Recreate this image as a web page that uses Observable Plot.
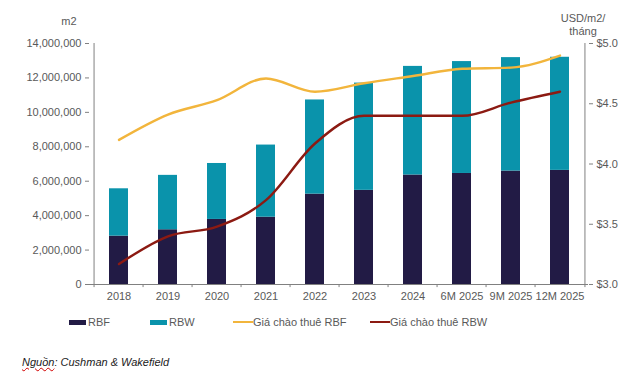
<!DOCTYPE html>
<html>
<head>
<meta charset="utf-8">
<script src="https://cdn.jsdelivr.net/npm/d3@7"></script>
<script src="https://cdn.jsdelivr.net/npm/@observablehq/plot@0.6"></script>
<style>
  body { margin: 0; background: #fff; font-family: "Liberation Sans", Arial, sans-serif; }
  #wrap { position: relative; width: 635px; height: 375px; }
  .lbl { position: absolute; color: #595959; font-size: 11px; line-height: 13px; text-align: center; }
  .leg { position: absolute; top: 315px; font-size: 11px; color: #595959; display: flex; align-items: center; height: 14px; white-space: nowrap; }
  .sw { display: inline-block; margin-right: 2px; }
  #src { position: absolute; left: 22px; top: 356px; font-size: 11px; font-style: italic; color: #1a1a1a; }
  #src u { text-decoration: underline wavy #d00000; text-decoration-thickness: 1px; }
</style>
</head>
<body>
<div id="wrap">
  <div id="chart"></div>
  <div class="lbl" style="left:55px; top:15px; width:28px;">m2</div>
  <div class="lbl" style="left:553px; top:12px; width:60px;">USD/m2/<br>tháng</div>
  <div id="legend"></div>
  <div id="src"><u>Nguồn</u>: Cushman &amp; Wakefield</div>
</div>
<script>
const categories = ["2018","2019","2020","2021","2022","2023","2024","6M 2025","9M 2025","12M 2025"];
const rbfArea    = [2810000,3180000,3780000,3910000,5250000,5470000,6360000,6450000,6590000,6630000];
const rbwArea    = [2750000,3160000,3250000,4190000,5470000,6230000,6310000,6500000,6590000,6570000];
const rbfPrice   = [4.20,4.41,4.53,4.71,4.60,4.67,4.73,4.79,4.80,4.90];
const rbwPrice   = [3.17,3.40,3.48,3.70,4.17,4.40,4.40,4.40,4.51,4.60];
const seriesNames = ["RBF","RBW","Giá chào thuê RBF","Giá chào thuê RBW"];
const colors = ["#221b45","#0a93ab","#f2b53c","#8c1a12"];
const leftTicks = [0,2000000,4000000,6000000,8000000,10000000,12000000,14000000];
const rightTicks = [3.0,3.5,4.0,4.5,5.0];

const yMax = 14000000, pMin = 3, pMax = 5;
const toY = p => (p - pMin) / (pMax - pMin) * yMax;

const bars = [];
categories.forEach((c,i) => {
  bars.push({cat:c, series:seriesNames[0], v:rbfArea[i]});
  bars.push({cat:c, series:seriesNames[1], v:rbwArea[i]});
});
const lineA = categories.map((c,i) => ({cat:c, p:rbfPrice[i]}));
const lineB = categories.map((c,i) => ({cat:c, p:rbwPrice[i]}));

const W = 635, H = 305, mL = 89, mR = 47, mT = 43, mB = 21;
const step = (W - mL - mR) / categories.length;
const axisColor = "#808080";
const textColor = "#595959";

const chart = Plot.plot({
  width: W, height: H,
  marginLeft: mL, marginRight: mR, marginTop: mT, marginBottom: mB,
  style: {fontFamily: "'Liberation Sans', Arial, sans-serif", fontSize: "11px", color: textColor, background: "#fff"},
  x: {domain: categories, paddingInner: 0.62, paddingOuter: 0.31, label: null},
  y: {domain: [0, yMax], label: null},
  color: {domain: seriesNames, range: colors},
  marks: [
    Plot.barY(bars, {x: "cat", y: "v", fill: "series", order: seriesNames}),
    Plot.lineY(lineA, {x: "cat", y: d => toY(d.p), stroke: colors[2], strokeWidth: 2.4, curve: "monotone-x"}),
    Plot.lineY(lineB, {x: "cat", y: d => toY(d.p), stroke: colors[3], strokeWidth: 2.4, curve: "monotone-x"}),
    Plot.axisY({anchor: "left", ticks: leftTicks, tickFormat: d => d3.format(",")(d), tickSize: 4, tickPadding: 4, stroke: axisColor, fill: textColor, label: null}),
    Plot.axisY({anchor: "right", ticks: rightTicks.map(toY), tickFormat: d => "$" + (pMin + d / yMax * (pMax - pMin)).toFixed(1), tickSize: 4, tickPadding: 4, stroke: axisColor, fill: textColor, label: null}),
    Plot.axisX({tickSize: 0, tickPadding: 8, fill: textColor, label: null}),
    Plot.ruleX(categories, {x: d => d, y1: 0, y2: -180000, dx: -step / 2, stroke: axisColor}),
    Plot.ruleX([categories[categories.length - 1]], {x: d => d, y1: 0, y2: -180000, dx: step / 2, stroke: axisColor}),
    Plot.ruleY([0], {stroke: axisColor}),
    Plot.ruleX([categories[0]], {x: d => d, dx: -step / 2, y1: 0, y2: yMax, stroke: axisColor}),
    Plot.ruleX([categories[categories.length - 1]], {x: d => d, dx: step / 2, y1: 0, y2: yMax, stroke: axisColor})
  ]
});
document.getElementById("chart").appendChild(chart);

// legend
const legendPos = [69, 150, 233, 370];
const legend = document.getElementById("legend");
seriesNames.forEach((name, i) => {
  const d = document.createElement("div");
  d.className = "leg";
  d.style.left = legendPos[i] + "px";
  const sw = document.createElement("span");
  sw.className = "sw";
  if (i < 2) { sw.style.width = "17px"; sw.style.height = "5px"; }
  else { sw.style.width = "20px"; sw.style.height = "2px"; sw.style.marginRight = "0px"; }
  sw.style.background = colors[i];
  d.appendChild(sw);
  d.appendChild(document.createTextNode(name));
  legend.appendChild(d);
});
</script>
</body>
</html>
